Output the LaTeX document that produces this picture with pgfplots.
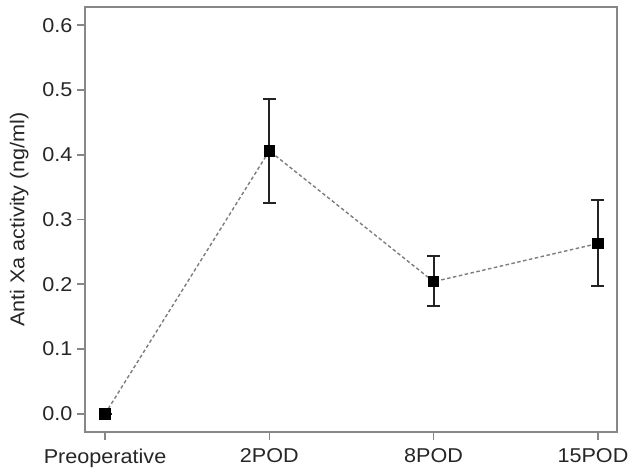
\documentclass[border=0pt]{standalone}
\usepackage{pgfplots}
\pgfplotsset{compat=1.18}
\usepackage{fontspec}
\setmainfont[FakeStretch=1.08]{Liberation Sans}
\definecolor{axgray}{RGB}{135,135,135}
\definecolor{lngray}{RGB}{125,125,125}
\definecolor{barcol}{RGB}{35,35,35}

\begin{document}
\begin{tikzpicture}
\begin{axis}[
    scale only axis,
    width=532pt, height=425pt,
    xmin=-0.122, xmax=3.116,
    ymin=-0.028, ymax=0.628,
    xtick={0,1,2,3},
    xticklabels={Preoperative,2POD,8POD,\hspace*{-10pt}15POD},
    ytick={0,0.1,0.2,0.3,0.4,0.5,0.6},
    yticklabel style={xshift=-1pt, /pgf/number format/.cd,fixed,fixed zerofill,precision=1,assume math mode=true},
    tick label style={font=\fontsize{20}{22}\selectfont, text=black!85},
    ylabel={Anti Xa activity (ng/ml)},
    ylabel style={font=\fontsize{20}{22}\selectfont, text=black!85, yshift=7pt},
    axis line style={axgray, line width=1.6pt},
    tick style={axgray, line width=1.6pt},
    tick align=outside,
    major tick length=8pt,
    xtick pos=bottom, ytick pos=left,
    xticklabel style={yshift=-5pt},
    clip=false,
]
\addplot[lngray, line width=1.4pt, dash pattern=on 3.5pt off 2.5pt,
    mark=square*, mark size=5pt, mark options={solid, fill=black, draw=black},
    error bars/.cd, y dir=both, y explicit,
    error bar style={barcol, line width=2pt, solid},
    error mark options={barcol, line width=2pt, rotate=90, mark size=6.5pt, solid}]
    coordinates {
    (0,0.000) +- (0,0)
    (1,0.406) += (0,0.080) -= (0,0.081)
    (2,0.204) += (0,0.039) -= (0,0.037)
    (3,0.263) += (0,0.067) -= (0,0.066)
    };
\end{axis}
\pgfresetboundingbox
\path[use as bounding box] ([xshift=-85pt,yshift=-41pt]current axis.south west) rectangle ([xshift=11pt,yshift=7pt]current axis.north east);
\end{tikzpicture}
\end{document}
